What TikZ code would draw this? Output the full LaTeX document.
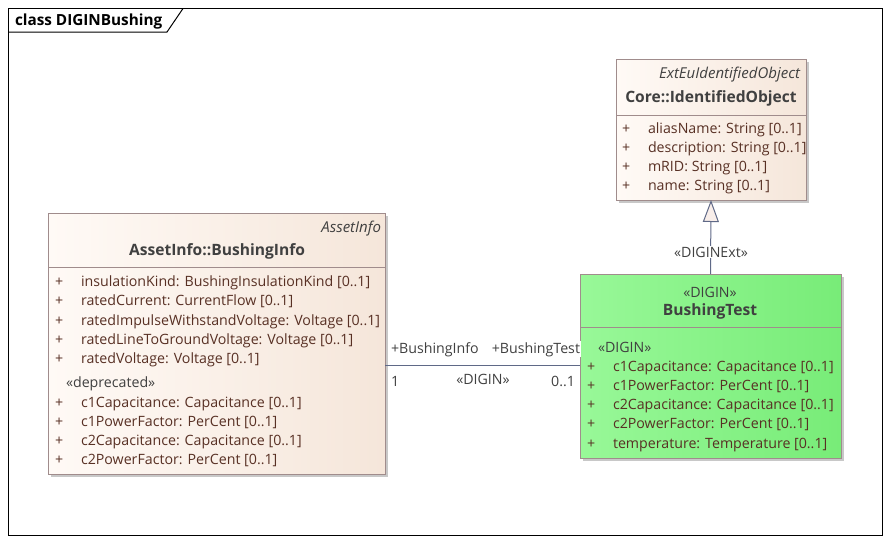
\documentclass[tikz,border=0pt]{standalone}
\usepackage{fontspec}
\setmainfont{Open Sans}
\usetikzlibrary{arrows.meta,shadows}
\definecolor{bordercol}{RGB}{160,140,140}
\definecolor{beigeL}{RGB}{255,250,246}
\definecolor{beigeR}{RGB}{245,230,218}
\definecolor{greenL}{RGB}{152,248,152}
\definecolor{greenR}{RGB}{120,236,120}
\definecolor{attrcol}{RGB}{88,48,36}
\definecolor{headcol}{RGB}{64,64,64}
\definecolor{linecol}{RGB}{95,105,135}
\definecolor{trifill}{RGB}{248,238,234}
\definecolor{shadowcol}{RGB}{200,200,200}
\tikzset{
  umlbox/.style={draw=bordercol, line width=1pt, anchor=north west, inner sep=0pt, outer sep=0pt,
    drop shadow={shadow xshift=3pt, shadow yshift=-3pt, fill=shadowcol, opacity=1}},
  beige/.style={left color=beigeL, right color=beigeR},
  greenbox/.style={left color=greenL, right color=greenR},
  txt/.style={inner sep=0pt, outer sep=0pt, font=\fontsize{14.2}{16}\selectfont},
  attr/.style={txt, text=attrcol, anchor=base west},
  plus/.style={txt, text=attrcol, anchor=base west},
  stereo/.style={txt, text=headcol},
  title/.style={txt, text=headcol, font=\fontsize{15.6}{18}\selectfont\bfseries, anchor=base},
  italichead/.style={txt, text=headcol, font=\fontsize{15}{18}\selectfont\itshape, anchor=base east},
  lbl/.style={txt, text=headcol},
  sep/.style={draw=bordercol, line width=1pt},
  conn/.style={draw=linecol, line width=1pt},
}
\begin{document}
\begin{tikzpicture}[x=1pt,y=-1pt]
\useasboundingbox (0,0) rectangle (891,544);
% frame
\draw[line width=1pt] (8.5,8.5) rectangle (882.5,535.5);
\draw[line width=1pt] (8.5,32) -- (167,32) -- (183,8.5);
\node[txt, text=black, font=\fontsize{15.3}{18}\selectfont\bfseries, anchor=base west] (ttl) at (15,25) {class DIGINBushing};

% IdentifiedObject
\node[umlbox, beige, minimum width=190pt, minimum height=141pt] (io) at (616,59) {};
\draw[sep] (io.west |- 0,115) -- (io.east |- 0,115);
\node[italichead] (ioS) at (800,78) {ExtEuIdentifiedObject};
\node[title] (ioT) at (711,102) {Core::IdentifiedObject};
\foreach \y/\t [count=\i] in {133/{aliasName: String [0..1]},152/{description: String [0..1]},171/{mRID: String [0..1]},190/{name: String [0..1]}}{
  \node[plus] (iop\i) at (622,\y) {+};
  \node[attr] (ioa\i) at (648,\y) {\t};
}

% BushingInfo
\node[umlbox, beige, minimum width=337pt, minimum height=261pt] (bi) at (48,213) {};
\draw[sep] (bi.west |- 0,267) -- (bi.east |- 0,267);
\node[italichead] (biS) at (381,232) {AssetInfo};
\node[title] (biT) at (217,255) {AssetInfo::BushingInfo};
\foreach \y/\t [count=\i] in {286/{insulationKind: BushingInsulationKind [0..1]},305/{ratedCurrent: CurrentFlow [0..1]},325/{ratedImpulseWithstandVoltage: Voltage [0..1]},344/{ratedLineToGroundVoltage: Voltage [0..1]},363/{ratedVoltage: Voltage [0..1]},407/{c1Capacitance: Capacitance [0..1]},426/{c1PowerFactor: PerCent [0..1]},445/{c2Capacitance: Capacitance [0..1]},464/{c2PowerFactor: PerCent [0..1]}}{
  \node[plus] (bip\i) at (55,\y) {+};
  \node[attr] (bia\i) at (81,\y) {\t};
}
\node[stereo, anchor=base west] (biD) at (66,387) {«deprecated»};

% BushingTest
\node[umlbox, greenbox, minimum width=261pt, minimum height=184pt] (bt) at (580,274) {};
\draw[sep] (bt.west |- 0,327) -- (bt.east |- 0,327);
\node[stereo, anchor=base] (btS) at (710,297) {«DIGIN»};
\node[title] (btT) at (710,315) {BushingTest};
\node[stereo, anchor=base west] (btD) at (598,352) {«DIGIN»};
\foreach \y/\t [count=\i] in {371/{c1Capacitance: Capacitance [0..1]},390/{c1PowerFactor: PerCent [0..1]},409/{c2Capacitance: Capacitance [0..1]},428/{c2PowerFactor: PerCent [0..1]},448/{temperature: Temperature [0..1]}}{
  \node[plus] (btp\i) at (587,\y) {+};
  \node[attr] (bta\i) at (613,\y) {\t};
}

% generalization
\draw[conn, -{Triangle[open, length=22pt, width=16pt, fill=trifill]}] (bt.north) -- (io.south);
\node[lbl, fill=white, inner sep=1pt, anchor=base] (genL) at (711,257) {«DIGINExt»};

% association
\draw[conn] (bi.east |- 0,365) -- (bt.west |- 0,365);
\node[lbl, anchor=base west] (aL1) at (391,353) {+BushingInfo};
\node[lbl, fill=white, inner sep=1pt, anchor=base east] (aL2) at (581,353) {+BushingTest};
\node[lbl, anchor=base west] (aM1) at (391,386) {1};
\node[lbl, anchor=base] (aS) at (483,384) {«DIGIN»};
\node[lbl, anchor=base east] (aM2) at (575,386) {0..1};
\end{tikzpicture}
\end{document}
